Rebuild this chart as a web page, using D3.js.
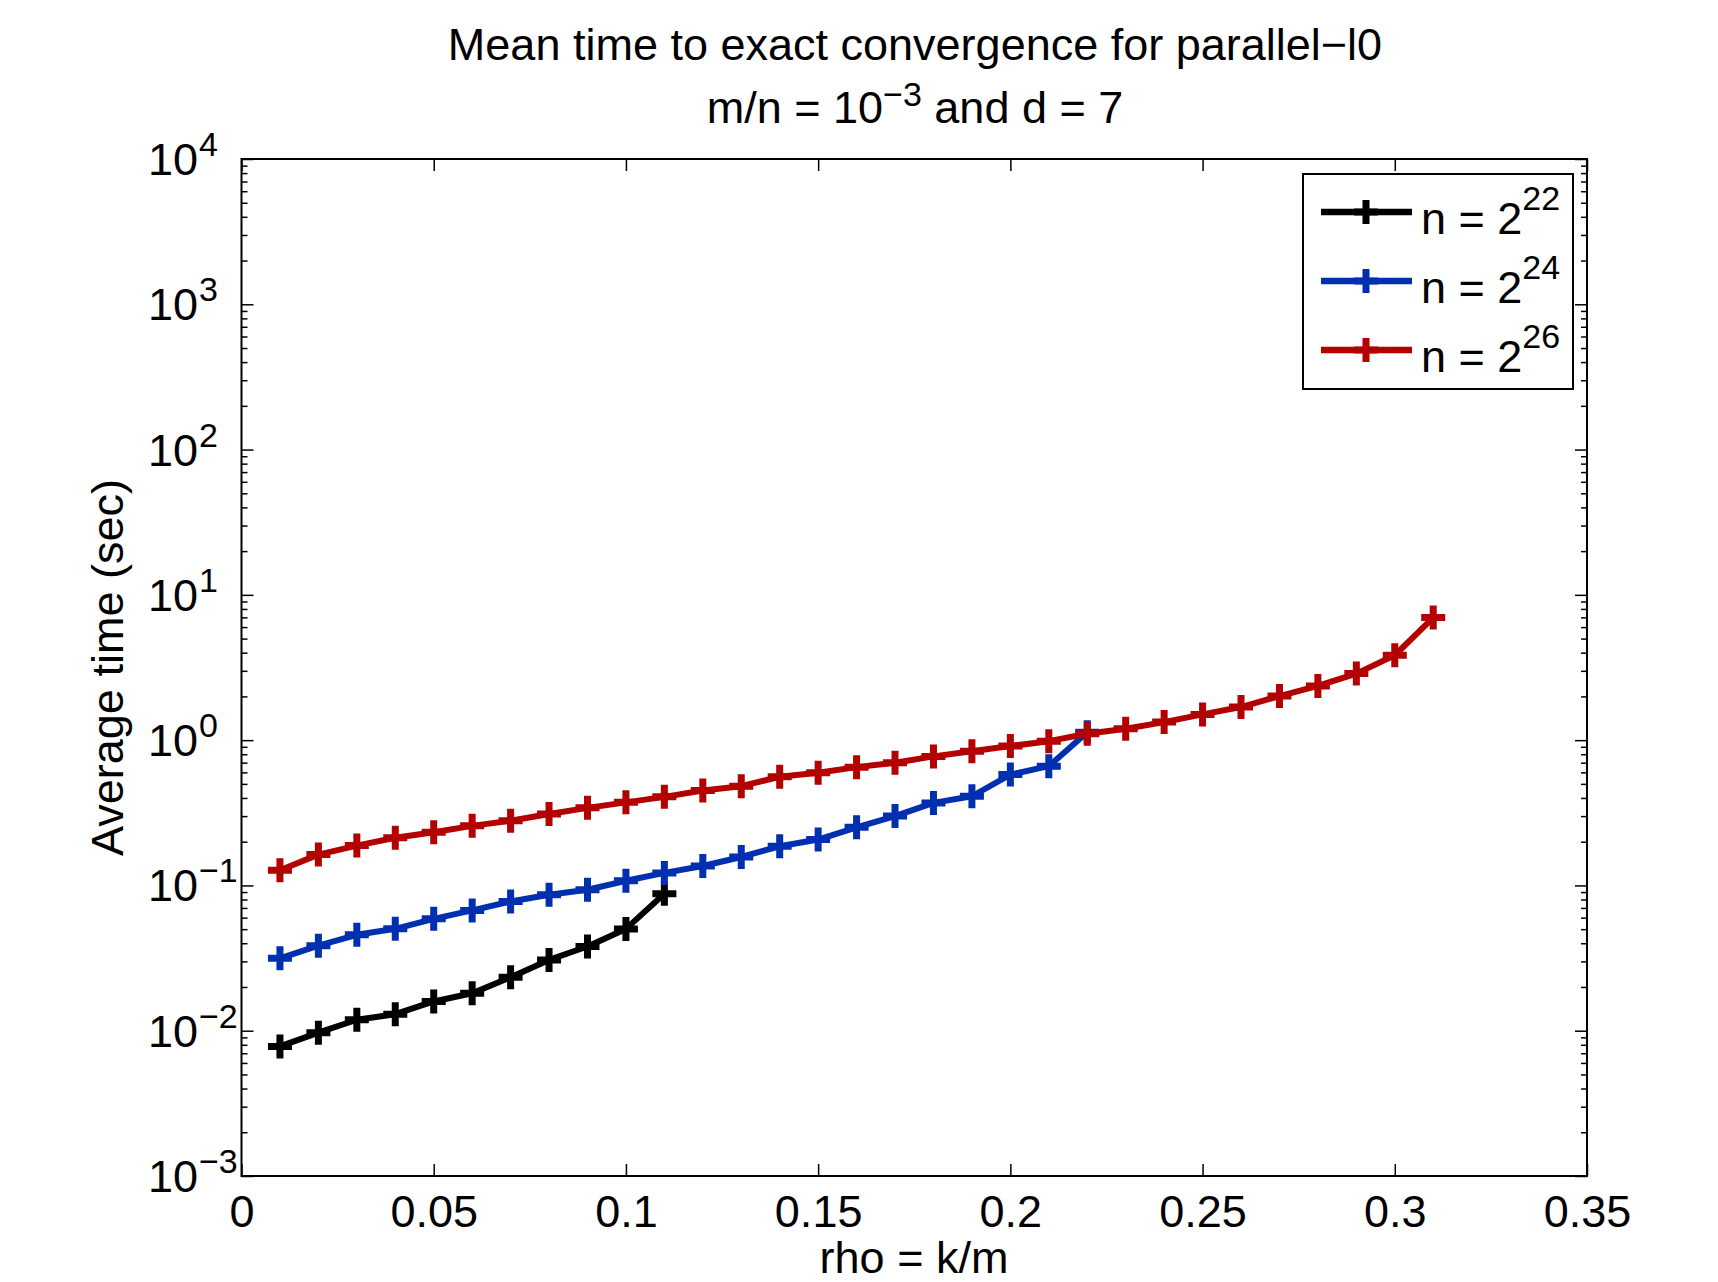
<!DOCTYPE html>
<html lang="en">
<head>
<meta charset="UTF-8">
<title>Mean time to exact convergence for parallel-l0</title>
<style>
  body { margin: 0; background: #fff; }
  svg text { font-family: 'Liberation Sans', Arial, sans-serif; fill: #000; white-space: pre; }
</style>
</head>
<body>
<div id="chart"></div>
<script src="https://cdnjs.cloudflare.com/ajax/libs/d3/7.8.5/d3.min.js"></script>
<script>
// data (rho = k/m, average time in seconds)
const rho22 = [0.01, 0.02, 0.03, 0.04, 0.05, 0.06, 0.07, 0.08, 0.09, 0.10, 0.11];
const time22 = [0.0078, 0.0097, 0.0119, 0.0130, 0.0159, 0.0181, 0.0233, 0.0307, 0.0380, 0.0502, 0.0877];

const rho24 = [0.01, 0.02, 0.03, 0.04, 0.05, 0.06, 0.07, 0.08, 0.09, 0.10, 0.11,
               0.12, 0.13, 0.14, 0.15, 0.16, 0.17, 0.18, 0.19, 0.20, 0.21, 0.22];
const time24 = [0.0315, 0.0385, 0.0457, 0.0503, 0.0589, 0.0673, 0.0776, 0.0863, 0.0934, 0.1076, 0.122,
                0.136, 0.157, 0.186, 0.207, 0.251, 0.300, 0.370, 0.411, 0.579, 0.662, 1.135];

const rho26 = [0.01, 0.02, 0.03, 0.04, 0.05, 0.06, 0.07, 0.08, 0.09, 0.10, 0.11,
               0.12, 0.13, 0.14, 0.15, 0.16, 0.17, 0.18, 0.19, 0.20, 0.21,
               0.22, 0.23, 0.24, 0.25, 0.26, 0.27, 0.28, 0.29, 0.30, 0.31];
const time26 = [0.127, 0.163, 0.188, 0.213, 0.232, 0.257, 0.279, 0.310, 0.342, 0.373, 0.407,
                0.450, 0.482, 0.560, 0.596, 0.652, 0.698, 0.773, 0.839, 0.910, 0.984,
                1.107, 1.199, 1.331, 1.504, 1.689, 2.01, 2.36, 2.87, 3.84, 6.98];

const seriesExp = ['22', '24', '26'];
const seriesColors = ['#000000', '#0030b0', '#b30000'];

const xTicks = [0, 0.05, 0.1, 0.15, 0.2, 0.25, 0.3, 0.35];
const yExponents = [-3, -2, -1, 0, 1, 2, 3, 4];

const W = 1718, H = 1282;
const box = { left: 241.5, right: 1587, top: 159, bottom: 1176 };
const FS = 45, SUP = 34;

const series = [
  { xs: rho22, ys: time22 },
  { xs: rho24, ys: time24 },
  { xs: rho26, ys: time26 }
].map((s, i) => ({
  exp: seriesExp[i],
  color: seriesColors[i],
  points: s.xs.map((x, j) => ({ x: x, y: s.ys[j] }))
}));

const x = d3.scaleLinear().domain([0, 0.35]).range([box.left, box.right]);
const y = d3.scaleLog().domain([1e-3, 1e4]).range([box.bottom, box.top]);

const svg = d3.select('#chart').append('svg')
  .attr('width', W)
  .attr('height', H)
  .attr('viewBox', [0, 0, W, H]);

// minor ticks 2..9 in each decade
const yMinor = [];
yExponents.slice(0, -1).forEach(e => {
  for (let k = 2; k <= 9; k++) yMinor.push(k * Math.pow(10, e));
});
const yMajor = yExponents.map(e => Math.pow(10, e));

function tickAxis(axis, tx, ty) {
  const g = svg.append('g').attr('transform', `translate(${tx},${ty})`).call(axis);
  g.select('.domain').remove();
  g.selectAll('.tick line').attr('stroke', '#000').attr('stroke-width', 1.5);
  return g;
}

// x ticks, bottom with labels, top mirrored
const xAxis = tickAxis(d3.axisBottom(x).tickValues(xTicks).tickSizeInner(-12).tickSizeOuter(0)
  .tickPadding(19).tickFormat(d3.format('~g')), 0, box.bottom);
xAxis.selectAll('text').attr('font-size', FS);
tickAxis(d3.axisTop(x).tickValues(xTicks).tickSizeInner(-12).tickSizeOuter(0).tickFormat(''), 0, box.top);

// y ticks, left and right
tickAxis(d3.axisLeft(y).tickValues(yMajor).tickSizeInner(-12).tickSizeOuter(0).tickFormat(''), box.left, 0);
tickAxis(d3.axisLeft(y).tickValues(yMinor).tickSizeInner(-6).tickSizeOuter(0).tickFormat(''), box.left, 0);
tickAxis(d3.axisRight(y).tickValues(yMajor).tickSizeInner(-12).tickSizeOuter(0).tickFormat(''), box.right, 0);
tickAxis(d3.axisRight(y).tickValues(yMinor).tickSizeInner(-6).tickSizeOuter(0).tickFormat(''), box.right, 0);

// y tick labels as 10^e
const yLab = svg.append('g').selectAll('g').data(yExponents).join('g')
  .attr('transform', e => `translate(0,${y(Math.pow(10, e))})`);
yLab.append('text')
  .attr('x', 198).attr('y', 16)
  .attr('text-anchor', 'end')
  .attr('font-size', FS)
  .text('10');
yLab.append('text')
  .attr('x', 199).attr('y', -3)
  .attr('font-size', SUP)
  .text(e => String(e).replace('-', '\u2212'));

// plot box
svg.append('rect')
  .attr('x', box.left).attr('y', box.top)
  .attr('width', box.right - box.left).attr('height', box.bottom - box.top)
  .attr('fill', 'none').attr('stroke', '#000').attr('stroke-width', 2);

// lines
const line = d3.line().x(d => x(d.x)).y(d => y(d.y));
const plus = 'M-12,0H12M0,-12V12';

const sg = svg.append('g').selectAll('g').data(series).join('g');
sg.append('path')
  .attr('d', d => line(d.points))
  .attr('fill', 'none')
  .attr('stroke', d => d.color)
  .attr('stroke-width', 6)
  .attr('stroke-linejoin', 'round');
sg.each(function (s) {
  d3.select(this).selectAll('path.mk').data(s.points).join('path')
    .attr('class', 'mk')
    .attr('transform', d => `translate(${x(d.x)},${y(d.y)})`)
    .attr('d', plus)
    .attr('stroke', s.color)
    .attr('stroke-width', 7)
    .attr('fill', 'none');
});

// legend
const leg = svg.append('g');
leg.append('rect')
  .attr('x', 1303).attr('y', 174).attr('width', 270).attr('height', 215)
  .attr('fill', '#fff').attr('stroke', '#000').attr('stroke-width', 2);
const li = leg.selectAll('g.it').data(series).join('g')
  .attr('class', 'it')
  .attr('transform', (d, i) => `translate(0,${212 + i * 69})`);
li.append('line')
  .attr('x1', 1321).attr('x2', 1412)
  .attr('stroke', d => d.color).attr('stroke-width', 6.5);
li.append('path')
  .attr('transform', 'translate(1366,0)')
  .attr('d', plus)
  .attr('stroke', d => d.color).attr('stroke-width', 7).attr('fill', 'none');
const lt = li.append('text')
  .attr('x', 1421).attr('y', 22)
  .attr('font-size', FS);
lt.append('tspan').text('n = 2');
lt.append('tspan').attr('dy', -24).attr('font-size', SUP).text(d => d.exp);

// titles and labels
svg.append('text')
  .attr('x', 915).attr('y', 60)
  .attr('text-anchor', 'middle')
  .attr('font-size', FS)
  .text('Mean time to exact convergence for parallel\u2212l0');
const t2 = svg.append('text')
  .attr('x', 915).attr('y', 123)
  .attr('text-anchor', 'middle')
  .attr('font-size', FS);
t2.append('tspan').text('m/n = 10');
t2.append('tspan').attr('dy', -17).attr('font-size', SUP).text('\u22123');
t2.append('tspan').attr('dy', 17).text(' and d = 7');

svg.append('text')
  .attr('x', 914).attr('y', 1273)
  .attr('text-anchor', 'middle')
  .attr('font-size', FS)
  .text('rho = k/m');

svg.append('text')
  .attr('transform', `translate(123,${(box.top + box.bottom) / 2}) rotate(-90)`)
  .attr('text-anchor', 'middle')
  .attr('font-size', FS)
  .text('Average time (sec)');
</script>
</body>
</html>
